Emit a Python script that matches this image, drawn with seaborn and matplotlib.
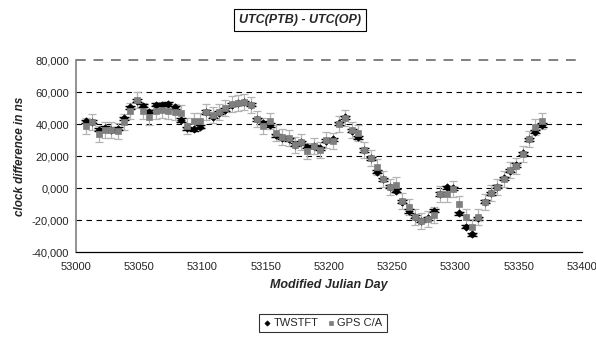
import numpy as np
import pandas as pd
import matplotlib
matplotlib.use("Agg")
import matplotlib.pyplot as plt
import seaborn as sns

# MJD sampling (every 5 days)
mjd = [53008 + 5 * i for i in range(73)]

# UTC(PTB) - UTC(OP) in ns, TWSTFT link
twstft = [41.7, 41.5, 36.5, 37.5, 36.0, 37.0, 43.5, 50.4, 54.5, 51.5,
          47.7, 52.0, 52.0, 52.5, 50.4, 42.5, 37.3, 36.7, 38.3, 47.5,
          44.5, 47.0, 49.0, 52.0, 53.0, 53.5, 52.0, 43.0, 40.8, 39.4,
          33.0, 31.5, 30.5, 27.0, 28.5, 25.8, 26.0, 24.8, 29.6, 30.4,
          40.4, 44.2, 35.8, 31.7, 23.7, 18.5, 10.2, 5.4, 0.8, -1.7,
          -8.5, -14.4, -17.9, -20.4, -19.0, -14.2, -3.8, 0.4, -0.2, -15.8,
          -24.2, -28.9, -19.0, -8.5, -3.3, 0.8, 6.0, 10.8, 14.4, 21.7,
          30.4, 35.2, 39.4]

# UTC(PTB) - UTC(OP) in ns, GPS C/A common view
gps = [39.0, 41.0, 34.0, 36.0, 36.0, 35.5, 41.0, 48.0, 55.0, 48.0,
       44.5, 48.0, 49.0, 48.0, 47.5, 47.0, 38.5, 42.0, 42.0, 47.5,
       45.5, 47.5, 49.8, 52.5, 53.0, 53.5, 51.9, 42.9, 38.5, 42.0,
       34.2, 32.1, 31.0, 26.9, 29.0, 23.0, 26.5, 24.0, 30.0, 29.6,
       40.0, 43.5, 36.5, 34.2, 23.5, 19.0, 13.0, 5.6, 0.5, 2.0,
       -8.0, -12.0, -18.0, -20.5, -19.5, -17.0, -4.0, -4.0, -0.5, -10.0,
       -18.0, -24.6, -18.0, -8.5, -3.0, 0.5, 5.5, 11.0, 14.0, 21.5,
       30.5, 38.0, 42.0]

twstft_err = 1.0   # ns
gps_err = 5.0      # ns

x_ticks = [53000, 53050, 53100, 53150, 53200, 53250, 53300, 53350, 53400]
y_ticks = [-40, -20, 0, 20, 40, 60, 80]

df = pd.DataFrame({"MJD": mjd + mjd,
                   "diff": twstft + gps,
                   "link": ["TWSTFT"] * len(mjd) + ["GPS C/A"] * len(mjd)})

sns.set_style("white")
plt.rcParams["font.family"] = ["Liberation Sans", "DejaVu Sans"]

fig = plt.figure(figsize=(5.96, 3.38), dpi=100)
ax = fig.add_axes([76 / 596, 1 - 252 / 338, 506 / 596, 192 / 338])

# horizontal dashed grid
for v in y_ticks[1:-1]:
    ax.axhline(v, color="black", lw=0.8, ls=(0, (5, 4)), zorder=1)
ax.axhline(80, color="#808080", lw=1.4, ls=(0, (5, 4)), zorder=1, clip_on=False)

# error bars
ax.errorbar(mjd, gps, yerr=gps_err, fmt="none", ecolor="#b4b4b4",
            elinewidth=0.9, capsize=3, capthick=0.9, zorder=2)
ax.errorbar(mjd, twstft, yerr=twstft_err, fmt="none", ecolor="black",
            elinewidth=0.9, capsize=3.5, capthick=1.0, zorder=3)

sns.scatterplot(data=df[df.link == "TWSTFT"], x="MJD", y="diff",
                marker="D", s=14, color="black", edgecolor="black",
                linewidth=0.5, ax=ax, zorder=4, label="TWSTFT")
sns.scatterplot(data=df[df.link == "GPS C/A"], x="MJD", y="diff",
                marker="s", s=16, color="#7f7f7f", edgecolor="#7f7f7f",
                linewidth=0.5, ax=ax, zorder=5, label="GPS C/A")

ax.set_xlim(53000, 53400)
ax.set_ylim(-40, 80)
ax.set_xticks(x_ticks)
ax.set_yticks(y_ticks)
ax.set_yticklabels([f"{v:.3f}".replace(".", ",") for v in y_ticks])
ax.tick_params(axis="both", labelsize=8, direction="out", length=3,
               width=0.8, pad=2)
ax.tick_params(axis="x", pad=4)

for s in ["top", "right"]:
    ax.spines[s].set_visible(False)
ax.spines["left"].set_color("#808080")
ax.spines["left"].set_linewidth(1.2)
ax.spines["bottom"].set_color("black")
ax.spines["bottom"].set_linewidth(0.9)
ax.tick_params(axis="y", color="#808080")

ax.set_xlabel("Modified Julian Day", fontsize=9, fontweight="bold",
              fontstyle="italic", labelpad=5)
ax.set_ylabel("clock difference in ns", fontsize=8.5, fontweight="bold",
              fontstyle="italic", labelpad=4)

fig.text(0.503, 0.94, "UTC(PTB) - UTC(OP)", ha="center", va="center",
         fontsize=9, fontweight="bold", fontstyle="italic",
         bbox=dict(boxstyle="square,pad=0.4", fc="white", ec="black", lw=0.8))

leg = ax.legend(loc="center", bbox_to_anchor=(323 / 596, 1 - 323 / 338),
                bbox_transform=fig.transFigure, ncol=2, fontsize=8,
                frameon=True, fancybox=False, handlelength=0.6,
                handletextpad=0.3, columnspacing=0.8, borderpad=0.4,
                markerscale=0.7)
leg.get_frame().set_edgecolor("black")
leg.get_frame().set_linewidth(0.8)

fig.savefig("out.png", dpi=100)
